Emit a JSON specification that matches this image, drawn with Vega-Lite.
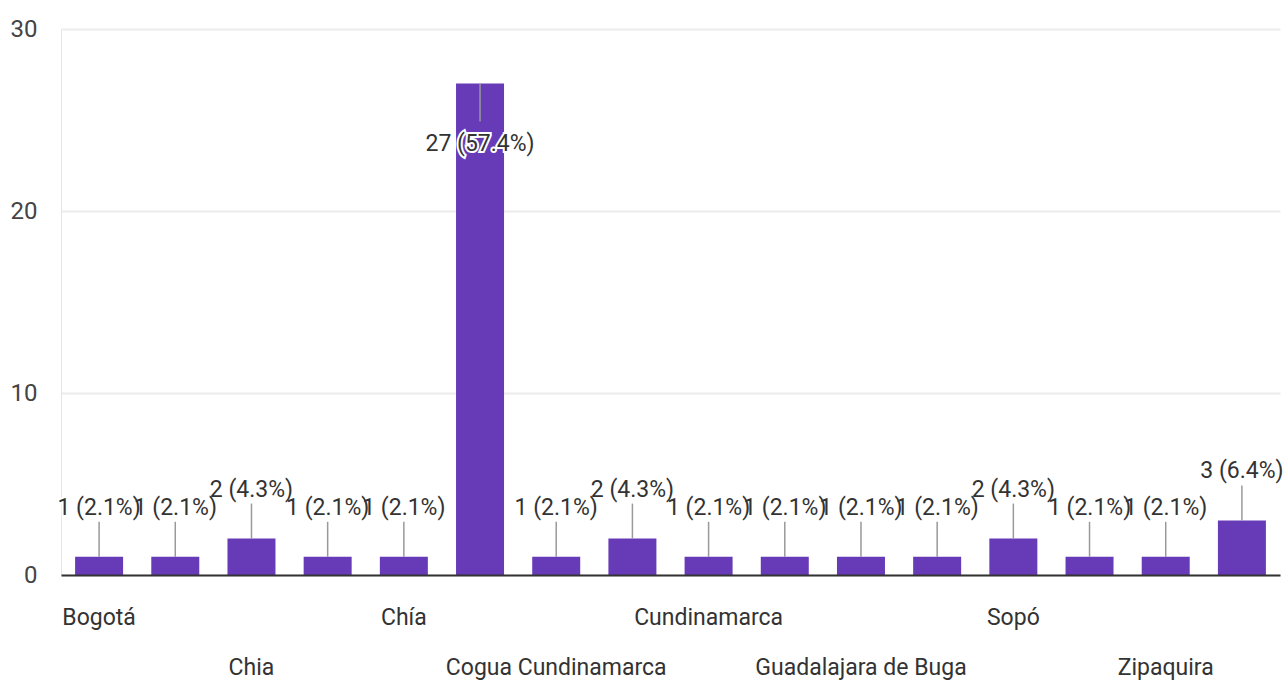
{
  "$schema": "https://vega.github.io/schema/vega-lite/v6.json",
  "width": 1219,
  "height": 546,
  "autosize": {"type": "none"},
  "padding": {"left": 61, "top": 29, "right": 4, "bottom": 110},
  "background": "white",
  "config": {
    "font": "Roboto",
    "view": {"stroke": null}
  },
  "data": {
    "values": [
      {"city": "Bogotá", "count": 1},
      {"city": "Cajicá", "count": 1},
      {"city": "Chia", "count": 2},
      {"city": "Chia Cundinamarca", "count": 1},
      {"city": "Chía", "count": 1},
      {"city": "Chía Cundinamarca", "count": 27},
      {"city": "Cogua Cundinamarca", "count": 1},
      {"city": "Cota", "count": 2},
      {"city": "Cundinamarca", "count": 1},
      {"city": "Facatativá", "count": 1},
      {"city": "Guadalajara de Buga", "count": 1},
      {"city": "Nemocón", "count": 1},
      {"city": "Sopó", "count": 2},
      {"city": "Tocancipá", "count": 1},
      {"city": "Zipaquira", "count": 1},
      {"city": "Zipaquirá", "count": 3}
    ]
  },
  "transform": [
    {"joinaggregate": [{"op": "sum", "field": "count", "as": "total"}]},
    {"calculate": "datum.count + ' (' + format(datum.count / datum.total, '.1%') + ')'", "as": "label"}
  ],
  "encoding": {
    "x": {
      "field": "city",
      "type": "nominal",
      "sort": null,
      "scale": {"paddingInner": 0.37, "paddingOuter": 0.185},
      "axis": {
        "title": null,
        "ticks": false,
        "domainColor": "#333333",
        "domainWidth": 2,
        "grid": false,
        "labelAngle": 0,
        "labelFontSize": 23,
        "labelColor": "#333333",
        "labelBaseline": "alphabetic",
        "labelPadding": 49,
        "labelLineHeight": 50,
        "labelLimit": 0,
        "labelOverlap": false,
        "labelBound": false,
        "labelFlush": false,
        "zindex": 1,
        "labelExpr": "round(datum.index * 15) % 2 == 1 ? '' : (round(datum.index * 15) % 4 == 0 ? datum.label : ['', datum.label])"
      }
    },
    "y": {
      "field": "count",
      "type": "quantitative",
      "scale": {"domain": [0, 30], "nice": false},
      "axis": {
        "title": null,
        "values": [0, 10, 20, 30],
        "ticks": false,
        "domainColor": "#e6e6e6",
        "domainWidth": 1,
        "gridColor": "#ececec",
        "gridWidth": 2,
        "labelFontSize": 24,
        "labelColor": "#444444",
        "labelPadding": 24
      }
    }
  },
  "layer": [
    {"mark": {"type": "bar", "color": "#673ab7"}},
    {
      "transform": [{"filter": "datum.count < 20"}],
      "mark": {"type": "rule", "color": "#999999", "strokeWidth": 1.5, "y2Offset": -35},
      "encoding": {"y2": {"field": "count"}}
    },
    {
      "transform": [{"filter": "datum.count >= 20"}],
      "mark": {"type": "rule", "color": "#999999", "strokeWidth": 1.5, "y2Offset": 38},
      "encoding": {"y2": {"field": "count"}}
    },
    {
      "transform": [{"filter": "datum.count < 20"}],
      "mark": {"type": "text", "fontSize": 23, "baseline": "alphabetic", "dy": -42, "color": "white", "stroke": "white", "strokeWidth": 4},
      "encoding": {"text": {"field": "label"}}
    },
    {
      "transform": [{"filter": "datum.count < 20"}],
      "mark": {"type": "text", "fontSize": 23, "baseline": "alphabetic", "dy": -42, "color": "#333333"},
      "encoding": {"text": {"field": "label"}}
    },
    {
      "transform": [{"filter": "datum.count >= 20"}],
      "mark": {"type": "text", "fontSize": 23, "baseline": "alphabetic", "dy": 67, "color": "white", "stroke": "white", "strokeWidth": 4},
      "encoding": {"text": {"field": "label"}}
    },
    {
      "transform": [{"filter": "datum.count >= 20"}],
      "mark": {"type": "text", "fontSize": 23, "baseline": "alphabetic", "dy": 67, "color": "#333333"},
      "encoding": {"text": {"field": "label"}}
    }
  ]
}
